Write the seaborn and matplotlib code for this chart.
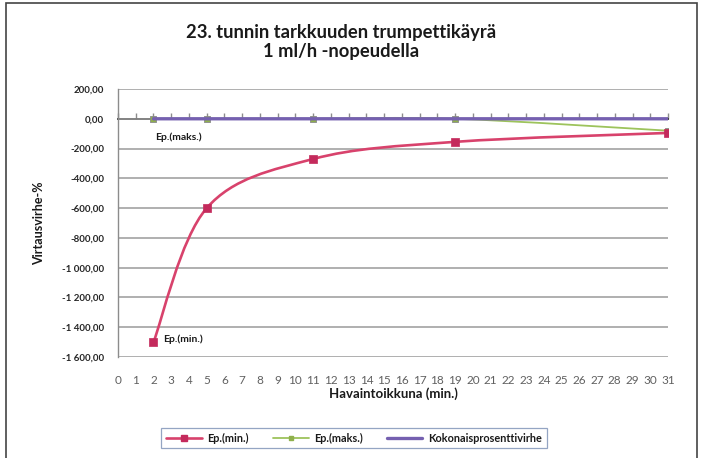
import numpy as np
import pandas as pd
import matplotlib
matplotlib.use("Agg")
import matplotlib.pyplot as plt
import seaborn as sns
from matplotlib.path import Path
from matplotlib.patches import PathPatch, Rectangle
from matplotlib.lines import Line2D
from matplotlib.ticker import FuncFormatter, MultipleLocator

# Observation windows (minutes) and trumpet-curve values (%)
windows = [2, 5, 11, 19, 31]
ep_min = [-1500, -600, -270, -155, -95]
ep_max = [0, 0, 0, 0, -80]
total_err = [0, 0, 0, 0, 0]

series_names = ["Ep.(min.)", "Ep.(maks.)", "Kokonaisprosenttivirhe"]
series_colors = ["#d8426c", "#9dc35c", "#7560b0"]
marker_colors = ["#c42a5c", "#8fb04c", "#7560b0"]

title_text = "23. tunnin tarkkuuden trumpettikäyrä\n1 ml/h -nopeudella"
x_label = "Havaintoikkuna (min.)"
y_label = "Virtausvirhe-%"
x_ticks = list(range(0, 32))
y_min, y_max, y_step = -1600, 200, 200

sns.set_theme(style="white")
plt.rcParams["font.family"] = ["Lato", "DejaVu Sans"]

df = pd.DataFrame({
    "window": windows * 3,
    "value": ep_min + ep_max + total_err,
    "series": np.repeat(series_names, len(windows)),
})

fig = plt.figure(figsize=(7.02, 4.58), dpi=100)
ax = fig.add_axes([118 / 702, 1 - 357 / 458, 550 / 702, 268 / 458])


def smooth_path(xs, ys):
    """Cubic Bezier path through the points (Excel-style smoothed line)."""
    pts = np.column_stack([xs, ys]).astype(float)
    n = len(pts)
    verts = [pts[0]]
    codes = [Path.MOVETO]
    for i in range(n - 1):
        p_prev = pts[max(i - 1, 0)]
        p0, p1 = pts[i], pts[i + 1]
        p_next = pts[min(i + 2, n - 1)]
        c1 = p0 + (p1 - p_prev) / 6.0
        c2 = p1 - (p_next - p0) / 6.0
        verts += [c1, c2, p1]
        codes += [Path.CURVE4] * 3
    return Path(verts, codes)


widths = [1.9, 1.3, 2.4]
zorders = [4, 5, 6]
for name, color, lw, z in zip(series_names, series_colors, widths, zorders):
    sub = df[df["series"] == name]
    ax.add_patch(PathPatch(smooth_path(sub["window"], sub["value"]),
                           facecolor="none", edgecolor=color, lw=lw,
                           zorder=z, capstyle="round"))

# markers
sns.scatterplot(data=df[df["series"] == series_names[0]], x="window", y="value",
                marker="s", s=36, color=marker_colors[0], edgecolor=marker_colors[0],
                linewidth=0.5, ax=ax, zorder=7, legend=False)
sns.scatterplot(data=df[df["series"] == series_names[1]], x="window", y="value",
                marker="s", s=20, color=marker_colors[1], edgecolor="#8a8a8a",
                linewidth=0.6, ax=ax, zorder=5, legend=False)

ax.set_xlim(0, 31)
ax.set_ylim(y_min, y_max)
ax.yaxis.set_major_locator(MultipleLocator(y_step))
ax.set_xticks(x_ticks)
ax.set_xticklabels([str(t) for t in x_ticks])


def fi_fmt(v, _):
    s = f"{v:,.2f}"
    return s.replace(",", " ").replace(".", ",")


ax.yaxis.set_major_formatter(FuncFormatter(fi_fmt))

ax.grid(axis="y", color="#9a9a9a", lw=1.1)
ax.grid(axis="x", visible=False)
for side in ["top", "right", "bottom"]:
    ax.spines[side].set_visible(False)
ax.spines["left"].set_color("#8c8c8c")
ax.spines["left"].set_linewidth(1.0)

ax.tick_params(axis="y", which="major", direction="out", length=5, width=1,
               color="#8c8c8c", labelsize=7, labelcolor="#262626", pad=5)
ax.tick_params(axis="x", which="major", length=0, labelsize=8.5,
               labelcolor="#606060", pad=13)
for lab in ax.get_yticklabels():
    lab.set_fontweight("bold")

# horizontal axis line crossing at zero
zero_pos = (0 - y_min) / (y_max - y_min)
sec = ax.secondary_xaxis(zero_pos)
sec.set_xticks(x_ticks)
sec.set_xticklabels([])
sec.tick_params(direction="out", length=4, width=1, color="#8c8c8c")
sec.spines["bottom"].set_color("#8c8c8c")
sec.spines["bottom"].set_linewidth(1.0)

ax.set_xlabel(x_label, fontsize=9.5, fontweight="bold", color="#1a1a1a", labelpad=1)
ax.set_ylabel(y_label, fontsize=9, fontweight="bold", color="#1a1a1a", labelpad=12)

# data labels for the first points
ax.annotate("Ep.(maks.)", (windows[0], ep_max[0]), xytext=(1, -13),
            textcoords="offset points", fontsize=7.5, fontweight="bold",
            color="#1a1a1a", ha="left", va="center", zorder=8)
ax.annotate("Ep.(min.)", (windows[0], ep_min[0]), xytext=(7, 2),
            textcoords="offset points", fontsize=7.5, fontweight="bold",
            color="#1a1a1a", ha="left", va="center", zorder=8)

fig.text(341 / 702, 1 - 42 / 458, title_text, ha="center", va="center",
         fontsize=13.2, fontweight="bold", color="#1a1a1a", linespacing=1.2)

# legend
handles = [
    Line2D([], [], color=series_colors[0], lw=1.9, marker="s", markersize=4.5,
           markerfacecolor=marker_colors[0], markeredgecolor=marker_colors[0]),
    Line2D([], [], color=series_colors[1], lw=1.3, marker="s", markersize=3,
           markerfacecolor=marker_colors[1], markeredgecolor=marker_colors[1]),
    Line2D([], [], color=series_colors[2], lw=2.4),
]
leg = fig.legend(handles, series_names, loc="center", ncol=3,
                 bbox_to_anchor=(354 / 702, 1 - 438 / 458), frameon=True,
                 fontsize=7.8, handlelength=3.3, columnspacing=2.2,
                 handletextpad=0.5, borderpad=0.45, fancybox=False,
                 borderaxespad=0)
leg.get_frame().set_edgecolor("#7a8fb5")
leg.get_frame().set_linewidth(0.9)
for t in leg.get_texts():
    t.set_fontweight("bold")
    t.set_color("#1a1a1a")

# chart area frame
fig.patches.append(Rectangle((6 / 702, -0.05), 691 / 702, 1.05 - 3 / 458,
                             transform=fig.transFigure, fill=False,
                             edgecolor="#444444", lw=1.2))

fig.savefig("out.png", dpi=100)
